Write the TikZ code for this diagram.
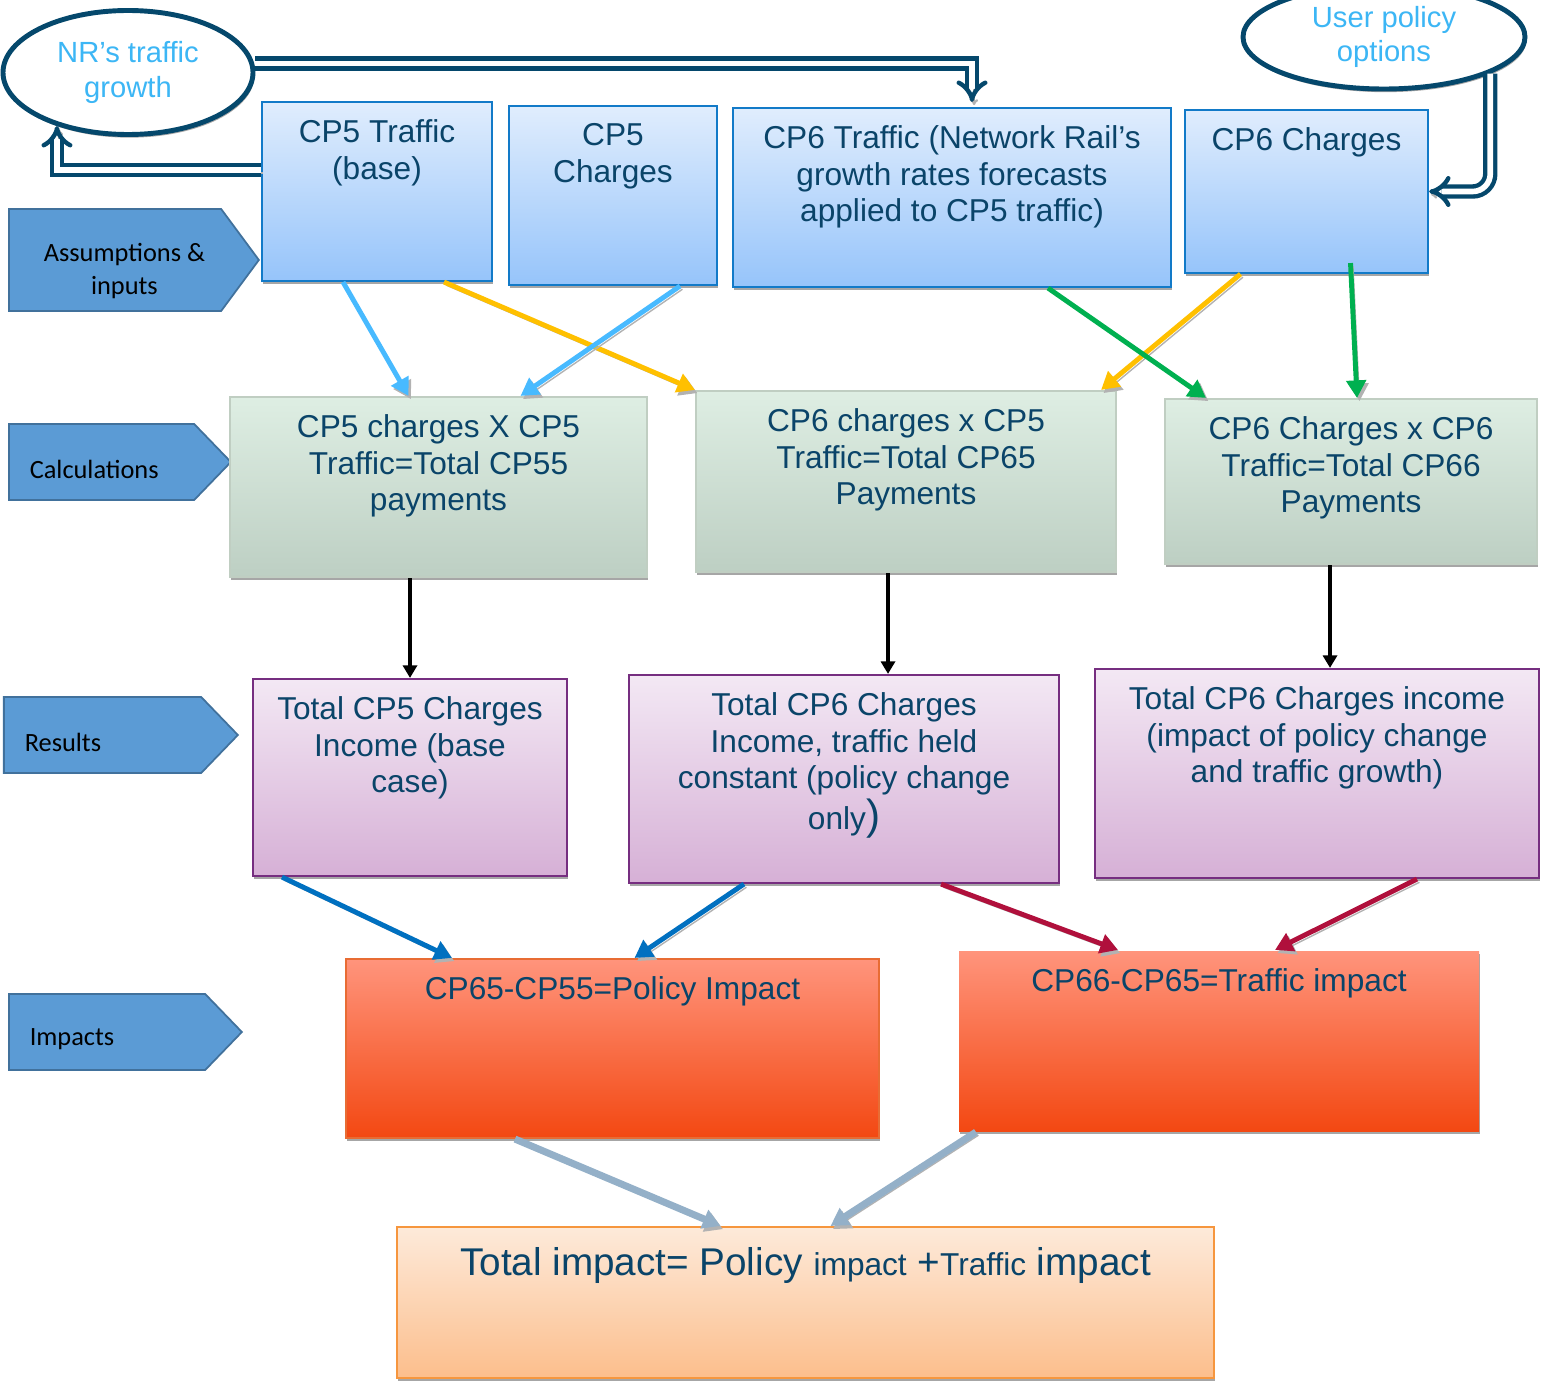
\documentclass[tikz,border=0pt]{standalone}
\usepackage{fontspec}
\setmainfont{Liberation Sans}
\newfontfamily\tagfont{Carlito}
\usepackage{tikz}
\usetikzlibrary{shapes.geometric, shapes.symbols, arrows.meta, shadows}
\definecolor{navytext}{RGB}{10, 68, 105}
\definecolor{navyline}{RGB}{5, 72, 108}
\definecolor{skytext}{RGB}{60, 182, 245}
\definecolor{inblueTop}{RGB}{224, 237, 253}
\definecolor{inblueBot}{RGB}{150, 196, 250}
\definecolor{inblueLine}{RGB}{18, 122, 200}
\definecolor{calcTop}{RGB}{222, 238, 227}
\definecolor{calcBot}{RGB}{189, 207, 195}
\definecolor{calcLine}{RGB}{192, 206, 194}
\definecolor{resTop}{RGB}{243, 232, 244}
\definecolor{resBot}{RGB}{214, 176, 214}
\definecolor{resLine}{RGB}{118, 46, 128}
\definecolor{impTop}{RGB}{255, 148, 124}
\definecolor{impBot}{RGB}{243, 72, 18}
\definecolor{impLine}{RGB}{232, 108, 52}
\definecolor{totTop}{RGB}{253, 234, 218}
\definecolor{totBot}{RGB}{252, 190, 140}
\definecolor{totLine}{RGB}{246, 150, 62}
\definecolor{tagFill}{RGB}{91, 155, 213}
\definecolor{tagLine}{RGB}{65, 113, 156}
\definecolor{skyarrow}{RGB}{72, 186, 255}
\definecolor{goldarrow}{RGB}{255, 192, 0}
\definecolor{greenarrow}{RGB}{0, 176, 80}
\definecolor{bluearrow}{RGB}{0, 112, 192}
\definecolor{redarrow}{RGB}{176, 16, 60}
\definecolor{greyarrow}{RGB}{148, 176, 200}

\begin{document}
\begin{tikzpicture}[
  boxshadow/.style={drop shadow={shadow xshift=0.4pt, shadow yshift=-0.9pt, fill=black!35, opacity=1}},
  inbox/.style={rectangle, draw=inblueLine, line width=0.6pt, top color=inblueTop, bottom color=inblueBot, boxshadow},
  calcbox/.style={rectangle, draw=calcLine, line width=0.6pt, top color=calcTop, bottom color=calcBot, boxshadow},
  resbox/.style={rectangle, draw=resLine, line width=0.6pt, top color=resTop, bottom color=resBot, boxshadow},
  impbox/.style={rectangle, line width=0.6pt, top color=impTop, bottom color=impBot, boxshadow},
  totbox/.style={rectangle, draw=totLine, line width=0.6pt, top color=totTop, bottom color=totBot, boxshadow},
  boxtext/.style={font=\fontsize{9}{10.5}\selectfont, text=navytext, align=center, inner sep=0pt, anchor=north, yshift=-5pt},
  cloud/.style={ellipse, draw=navyline, line width=1.4pt, fill=white, boxshadow, font=\fontsize{8.3}{9.7}\selectfont, text=skytext, align=center, inner sep=0pt},
  tag/.style={signal, signal to=east, draw=tagLine, line width=0.5pt, fill=tagFill, minimum height=0.76cm, signal pointer angle=92, anchor=west},
  tagtext/.style={font=\tagfont\fontsize{7.5}{9.4}\selectfont, text=black, align=center, inner sep=0pt, anchor=west, xshift=6pt, yshift=-2pt},
  feed/.style={line width=1.4pt, -{Triangle[length=5pt, width=5.5pt]}, preaction={draw=black!30, transform canvas={shift={(0.7pt,-0.9pt)}}}},
  flow/.style={line width=1.1pt, black, -{Triangle[length=3.6pt, width=4pt]}},
  doubleflow/.style={draw=navyline, double=white, line width=1.25pt, double distance=1.6pt, -{Implies}, preaction={draw=black!30, transform canvas={shift={(0.6pt,-0.9pt)}}}}
]
\useasboundingbox (0,0) rectangle (15.42,-13.83);

% Left-hand stage tags
\node[tag, minimum width=2.5cm, minimum height=1.02cm, signal pointer angle=107, label={[tagtext, xshift=4pt, yshift=-1pt]west:Assumptions \&\\inputs}] (tagInputs) at (0.08,-2.60) {};
\node[tag, minimum width=2.22cm, label={[tagtext]west:Calculations}] (tagCalc) at (0.08,-4.62) {};
\node[tag, minimum width=2.34cm, label={[tagtext]west:Results}] (tagResults) at (0.03,-7.35) {};
\node[tag, minimum width=2.33cm, label={[tagtext]west:Impacts}] (tagImpacts) at (0.08,-10.32) {};

% Outside sources
\node[cloud, minimum width=2.5cm, minimum height=1.24cm] (nrGrowth) at (1.28,-0.725) {NR’s traffic\\growth};
\node[cloud, minimum width=2.82cm, minimum height=1.04cm] (userPolicy) at (13.84,-0.37) {User policy\\options};

% Assumptions & inputs
\node[inbox, minimum width=2.3cm, minimum height=1.79cm, label={[boxtext]north:CP5 Traffic\\(base)}] (cp5Traffic) at (3.77,-1.915) {};
\node[inbox, minimum width=2.08cm, minimum height=1.79cm, label={[boxtext]north:CP5\\Charges}] (cp5Charges) at (6.13,-1.955) {};
\node[inbox, minimum width=4.38cm, minimum height=1.79cm, label={[boxtext]north:CP6 Traffic (Network Rail’s\\growth rates forecasts\\applied to CP5 traffic)}] (cp6Traffic) at (9.52,-1.975) {};
\node[inbox, minimum width=2.43cm, minimum height=1.63cm, label={[boxtext]north:CP6 Charges}] (cp6Charges) at (13.065,-1.915) {};

% Calculations
\node[calcbox, minimum width=4.17cm, minimum height=1.80cm, label={[boxtext]north:CP5 charges X CP5\\Traffic=Total CP55\\payments}] (calc55) at (4.385,-4.87) {};
\node[calcbox, minimum width=4.20cm, minimum height=1.81cm, label={[boxtext]north:CP6 charges x CP5\\Traffic=Total CP65\\Payments}] (calc65) at (9.06,-4.815) {};
\node[calcbox, minimum width=3.72cm, minimum height=1.65cm, label={[boxtext]north:CP6 Charges x CP6\\Traffic=Total CP66\\Payments}] (calc66) at (13.51,-4.815) {};

% Results
\node[resbox, minimum width=3.14cm, minimum height=1.97cm, label={[boxtext]north:Total CP5 Charges\\Income (base\\case)}] (res55) at (4.10,-7.775) {};
\node[resbox, minimum width=4.30cm, minimum height=2.08cm, label={[boxtext]north:Total CP6 Charges\\Income, traffic held\\constant (policy change\\only{\fontsize{12}{10.5}\selectfont)}}] (res65) at (8.44,-7.79) {};
\node[resbox, minimum width=4.44cm, minimum height=2.09cm, label={[boxtext]north:Total CP6 Charges income\\(impact of policy change\\and traffic growth)}] (res66) at (13.17,-7.735) {};

% Impacts
\node[impbox, draw=impLine, minimum width=5.33cm, minimum height=1.79cm, label={[boxtext]north:CP65-CP55=Policy Impact}] (imp1) at (6.125,-10.485) {};
\node[impbox, minimum width=5.20cm, minimum height=1.80cm, label={[boxtext]north:CP66-CP65=Traffic impact}] (imp2) at (12.19,-10.41) {};
\node[totbox, minimum width=8.17cm, minimum height=1.51cm, label={[boxtext, yshift=-1pt, font=\fontsize{11}{13}\selectfont]north:{Total impact= Policy {\fontsize{9}{11}\selectfont impact} +{\fontsize{9}{11}\selectfont Traffic} impact}}] (total) at (8.055,-13.025) {};

% Double feeds from the outside sources
\draw[doubleflow] ([yshift=0.09cm]nrGrowth.east) -| ([xshift=0.2cm, yshift=0.05cm]cp6Traffic.north);
\draw[doubleflow] ([yshift=0.215cm]cp5Traffic.west) -| (nrGrowth.217);
\draw[doubleflow, rounded corners=5pt] (userPolicy.341) |- (cp6Charges.east);

% Inputs into calculations
\draw[feed, goldarrow] ([xshift=0.67cm]cp5Traffic.south) -- (calc65.north west);
\draw[feed, goldarrow] ([xshift=-0.66cm]cp6Charges.south) -- ([xshift=-0.16cm]calc65.north east);
\draw[feed, skyarrow] ([xshift=-0.34cm]cp5Traffic.south) -- ([xshift=-0.30cm]calc55.north);
\draw[feed, skyarrow] ([xshift=0.67cm]cp5Charges.south) -- ([xshift=0.82cm]calc55.north);
\draw[feed, greenarrow] ([xshift=0.96cm]cp6Traffic.south) -- ([xshift=0.42cm]calc66.north west);
\draw[feed, greenarrow] ([xshift=0.44cm, yshift=0.11cm]cp6Charges.south) -- ([xshift=0.06cm]calc66.north);

% Calculations into results
\draw[flow] (calc55.south -| res55.north) -- (res55.north);
\coordinate (mid65) at ([xshift=-0.18cm]calc65.south);
\draw[flow] (mid65) -- (mid65 |- res65.north);
\coordinate (mid66) at ([xshift=-0.21cm]calc66.south);
\draw[flow] (mid66) -- (mid66 |- res66.north);

% Results into impacts
\draw[feed, bluearrow] ([xshift=0.30cm]res55.south west) -- ([xshift=1.07cm]imp1.north west);
\draw[feed, bluearrow] ([xshift=-1.0cm]res65.south) -- ([xshift=0.22cm]imp1.north);
\draw[feed, redarrow] ([xshift=-1.19cm]res65.south east) -- ([xshift=1.6cm]imp2.north west);
\draw[feed, redarrow] ([xshift=1.0cm]res66.south) -- ([xshift=0.56cm]imp2.north);

% Impacts into the total
\draw[feed, greyarrow, line width=2pt] ([xshift=-0.975cm]imp1.south) -- ([xshift=-0.85cm]total.north);
\draw[feed, greyarrow, line width=2pt] ([xshift=0.18cm]imp2.south west) -- ([xshift=0.25cm]total.north);

\end{tikzpicture}
\end{document}
